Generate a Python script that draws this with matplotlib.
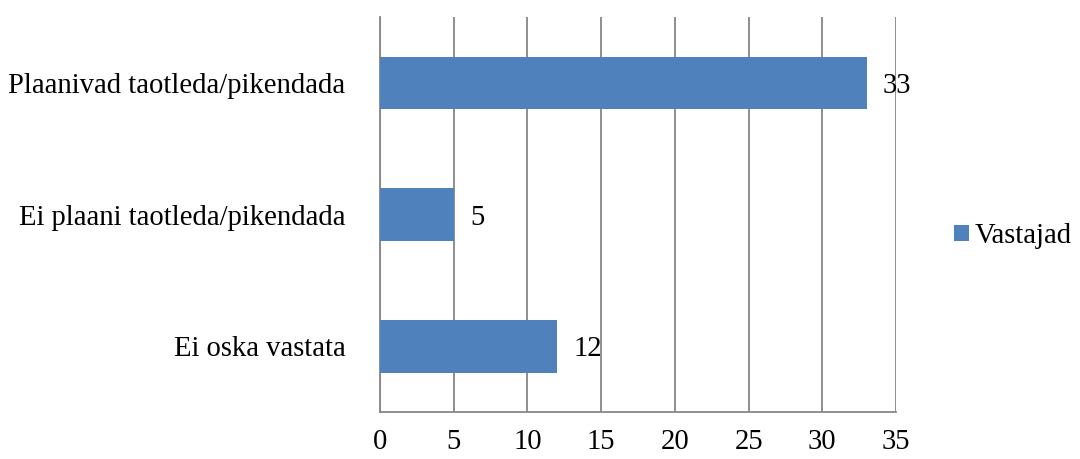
import matplotlib.pyplot as plt
from matplotlib.patches import Patch

categories = ["Plaanivad taotleda/pikendada", "Ei plaani taotleda/pikendada", "Ei oska vastata"]
values = [33, 5, 12]
series_name = "Vastajad"
xticks = [0, 5, 10, 15, 20, 25, 30, 35]

plt.rcParams['font.family'] = ['Liberation Serif', 'DejaVu Serif']
fs = 20.6
bar_color = "#4F81BD"
grid_color = "#868686"

fig = plt.figure(figsize=(10.8, 4.59), dpi=100)
ax = fig.add_axes([380/1080, 1 - 412/459, (896 - 380)/1080, (412 - 17)/459])

ypos = list(range(len(categories)))
ax.barh(ypos, values, height=0.4, color=bar_color, zorder=3)
for y, v in zip(ypos, values):
    ax.text(v + 1.1, y, str(v), va="center_baseline", ha="left", fontsize=fs, zorder=4)

ax.set_ylim(len(categories) - 0.5, -0.5)
ax.set_yticks(ypos)
ax.set_yticklabels(categories, fontsize=fs)
ax.tick_params(axis="y", length=0, pad=25)

ax.set_xlim(0, 35)
ax.set_xticks(xticks)
ax.set_xticklabels([str(t) for t in xticks], fontsize=fs)
ax.tick_params(axis="x", length=0, pad=12)
ax.grid(axis="x", color=grid_color, linewidth=1.3, zorder=0)

for s in ["top", "right"]:
    ax.spines[s].set_visible(False)
for s in ["left", "bottom"]:
    ax.spines[s].set_color(grid_color)
    ax.spines[s].set_linewidth(1.3)

handles = [Patch(facecolor=bar_color, label=series_name)]
fig.legend(handles=handles, loc="center left", bbox_to_anchor=(954/1080, 1 - 236/459),
           frameon=False, fontsize=fs, handlelength=0.52, handleheight=0.52,
           handletextpad=0.2, borderaxespad=0, borderpad=0)

fig.savefig("out.png", dpi=100)
